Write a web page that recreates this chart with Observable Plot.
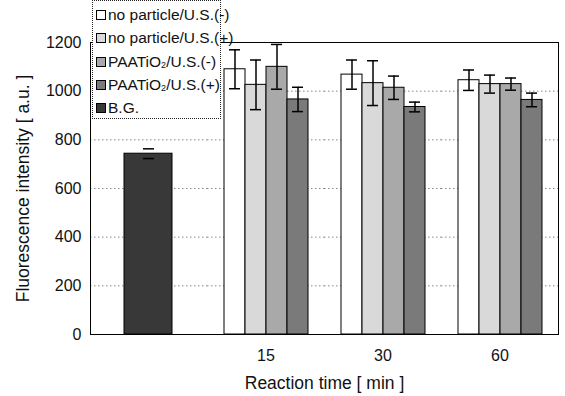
<!DOCTYPE html>
<html>
<head>
<meta charset="utf-8">
<script src="https://cdn.jsdelivr.net/npm/d3@7"></script>
<script src="https://cdn.jsdelivr.net/npm/@observablehq/plot@0.6"></script>
<style>
  html, body { margin: 0; padding: 0; background: #fff; }
  #wrap { position: relative; width: 565px; height: 396px; font-family: "Liberation Sans", Arial, sans-serif; }
  #legend { position: absolute; left: 92px; top: 0px; width: 129px; height: 119px; background: #fff;
    border: 1px dotted #222; box-sizing: border-box; font-size: 15.5px; color: #111; }
  .item { position: absolute; left: 3px; display: flex; align-items: center; white-space: nowrap; }
  .sw { width: 8px; height: 8px; border: 1px solid #000; margin-right: 2px; }
  sub { font-size: 9px; vertical-align: -1px; }
  #chart [aria-label="y-axis label"] text, #chart [aria-label="fx-axis label"] text { font-size: 17.5px; }
</style>
</head>
<body>
<div id="wrap"><div id="chart"></div><div id="legend"></div></div>
<script>
// categories
const times = ["15", "30", "60"];
const series = ["no particle/U.S.(-)", "no particle/U.S.(+)", "PAATiO2/U.S.(-)", "PAATiO2/U.S.(+)"];
const legendLabels = ["no particle/U.S.(-)", "no particle/U.S.(+)", "PAATiO<sub>2</sub>/U.S.(-)", "PAATiO<sub>2</sub>/U.S.(+)", "B.G."];
const fills = ["#ffffff", "#d9d9d9", "#a9a9a9", "#7a7a7a", "#383838"];
// values (per series, for 15, 30, 60 min)
const noParticleMinus = [1090, 1068, 1045];
const noParticlePlus = [1026, 1033, 1029];
const paaMinus = [1100, 1014, 1029];
const paaPlus = [966, 935, 964];
// error bars
const noParticleMinusErr = [80, 60, 42];
const noParticlePlusErr = [102, 92, 37];
const paaMinusErr = [92, 48, 25];
const paaPlusErr = [50, 20, 28];
// background
const bgValue = 743;
const bgErr = 20;
const yTicks = [0, 200, 400, 600, 800, 1000, 1200];

const meanSets = [noParticleMinus, noParticlePlus, paaMinus, paaPlus];
const errSets = [noParticleMinusErr, noParticlePlusErr, paaMinusErr, paaPlusErr];
const rows = [];
times.forEach((t, ti) => series.forEach((s, si) => {
  rows.push({time: t, series: s, value: meanSets[si][ti], err: errSets[si][ti]});
}));
const bg = [{time: "BG", value: bgValue, err: bgErr}];

const chart = Plot.plot({
  width: 565,
  height: 396,
  marginLeft: 90,
  marginRight: 7,
  marginTop: 42,
  marginBottom: 62,
  style: {fontFamily: "'Liberation Sans', Arial, sans-serif", fontSize: "16px", color: "#111", background: "#fff"},
  fx: {domain: ["BG", ...times], padding: 0, label: "Reaction time [ min ]", tickSize: 0, tickPadding: 15,
       tickFormat: d => d === "BG" ? "" : d, labelOffset: 54},
  x: {domain: series, paddingInner: 0, paddingOuter: 0.75, axis: null},
  y: {domain: [0, 1200], ticks: yTicks, tickFormat: "d", tickSize: 0, tickPadding: 9, label: "Fluorescence intensity [ a.u. ]",
      labelAnchor: "center", labelOffset: 74, labelArrow: "none"},
  color: {domain: series, range: fills.slice(0, 4)},
  marks: [
    Plot.gridY(yTicks.filter(d => d > 0 && d < 1200), {stroke: "#888", strokeOpacity: 1, strokeDasharray: "1.5,2.5"}),
    Plot.barY(bg, {fx: "time", y: "value", fill: fills[4], stroke: "#000", insetLeft: 34, insetRight: 35}),
    Plot.ruleX(bg, {fx: "time", y1: d => d.value - d.err, y2: d => d.value + d.err, stroke: "#000", strokeWidth: 1.5}),
    Plot.tickY(bg, {fx: "time", y: d => d.value - d.err, stroke: "#000", strokeWidth: 1.5, insetLeft: 53, insetRight: 53}),
    Plot.tickY(bg, {fx: "time", y: d => d.value + d.err, stroke: "#000", strokeWidth: 1.5, insetLeft: 53, insetRight: 53}),
    Plot.barY(rows, {fx: "time", x: "series", y: "value", fill: "series", stroke: "#000", strokeWidth: 1}),
    Plot.ruleX(rows, {fx: "time", x: "series", y1: d => d.value - d.err, y2: d => d.value + d.err, stroke: "#000", strokeWidth: 1.5}),
    Plot.tickY(rows, {fx: "time", x: "series", y: d => d.value - d.err, stroke: "#000", strokeWidth: 1.5, insetLeft: 5, insetRight: 5}),
    Plot.tickY(rows, {fx: "time", x: "series", y: d => d.value + d.err, stroke: "#000", strokeWidth: 1.5, insetLeft: 5, insetRight: 5}),
    Plot.frame({facet: "super", stroke: "#000"})
  ]
});
document.getElementById("chart").appendChild(chart);

const legend = document.getElementById("legend");
const tops = [14, 37, 61, 84, 107];
legendLabels.forEach((lab, i) => {
  const div = document.createElement("div");
  div.className = "item";
  div.style.top = (tops[i] - 9) + "px";
  div.innerHTML = `<span class="sw" style="background:${fills[i]}"></span><span>${lab}</span>`;
  legend.appendChild(div);
});
</script>
</body>
</html>
